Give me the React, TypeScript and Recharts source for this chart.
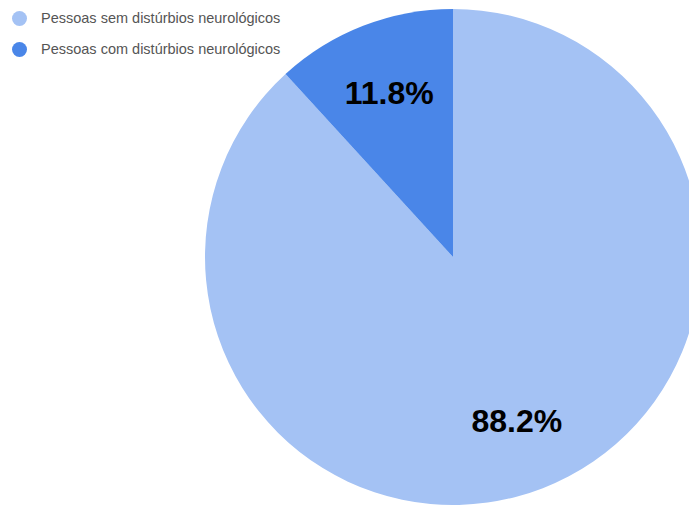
import React from 'react';
import { PieChart, Pie, Cell, Legend } from 'recharts';

const labels = ['Pessoas sem distúrbios neurológicos', 'Pessoas com distúrbios neurológicos'];
const values = [88.2, 11.8];
const colors = ['#a4c2f4', '#4a86e8'];

const data = labels.map((name, i) => ({ name, value: values[i] }));

const RAD = Math.PI / 180;

const renderLabel = (props: any) => {
  const { cx, cy, midAngle, outerRadius, value } = props;
  const r = outerRadius * 0.71;
  const x = cx + r * Math.cos(-midAngle * RAD);
  const y = cy + r * Math.sin(-midAngle * RAD);
  return (
    <text
      x={x}
      y={y}
      fill="#000"
      textAnchor="middle"
      dominantBaseline="central"
      fontFamily="'Liberation Sans', Arial, sans-serif"
      fontWeight="bold"
      fontSize={32}
    >
      {value.toFixed(1)}%
    </text>
  );
};

const renderLegend = () => (
  <div style={{ fontFamily: "'Liberation Sans', Arial, sans-serif" }}>
    {data.map((d, i) => (
      <div
        key={d.name}
        style={{ position: 'absolute', left: 12, top: 10 + i * 31, display: 'flex', alignItems: 'center', whiteSpace: 'nowrap' }}
      >
        <span
          style={{ width: 15, height: 15, borderRadius: '50%', background: colors[i], display: 'inline-block' }}
        />
        <span style={{ marginLeft: 14, fontSize: 14.5, color: '#555' }}>{d.name}</span>
      </div>
    ))}
  </div>
);

export default function App() {
  return (
    <div style={{ position: 'absolute', left: 0, top: 0, width: 689, height: 505, background: '#fff' }}>
      <PieChart width={689} height={505} margin={{ top: 0, right: 0, bottom: 0, left: 0 }}>
        <Pie
          data={data}
          dataKey="value"
          nameKey="name"
          cx={453}
          cy={257}
          outerRadius={248}
          startAngle={90}
          endAngle={-270}
          stroke="none"
          label={renderLabel}
          labelLine={false}
          isAnimationActive={false}
        >
          {data.map((d, i) => (
            <Cell key={d.name} fill={colors[i]} />
          ))}
        </Pie>
        <Legend content={renderLegend} wrapperStyle={{ left: 0, top: 0, width: 300, height: 70 }} />
      </PieChart>
    </div>
  );
}
